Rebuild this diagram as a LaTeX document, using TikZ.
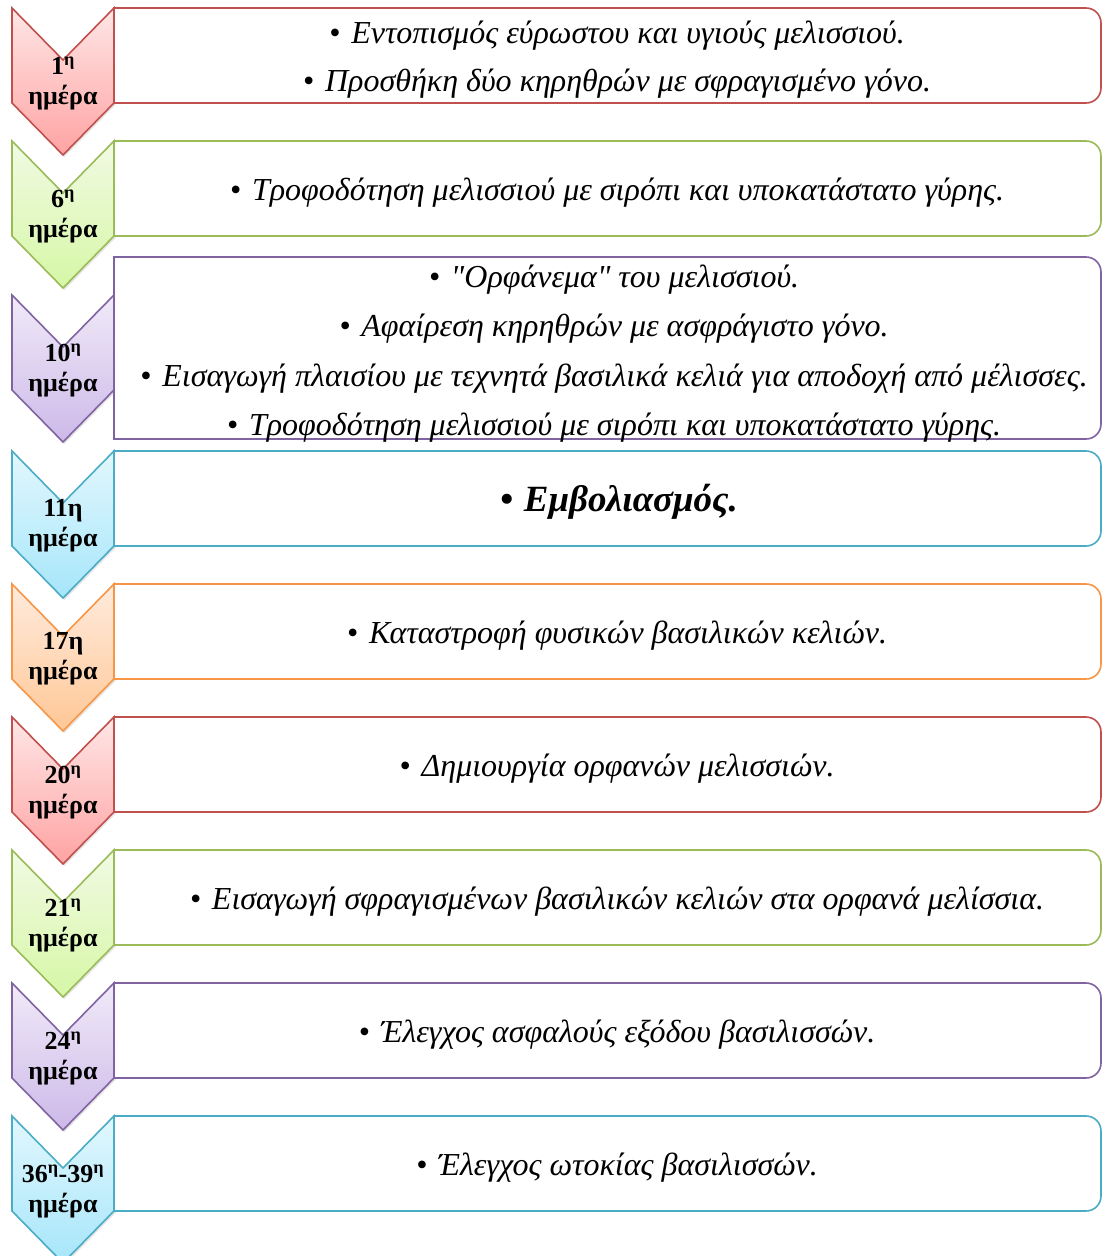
\documentclass[tikz,border=0pt]{standalone}
\usepackage{fontspec}
\setmainfont{Liberation Serif}
\usetikzlibrary{positioning,shadows}

\definecolor{redline}{HTML}{C0504D}
\definecolor{redtop}{HTML}{FFE6E6}
\definecolor{redbot}{HTML}{FFA3A3}
\definecolor{greenline}{HTML}{9BBB59}
\definecolor{greentop}{HTML}{F1FAE3}
\definecolor{greenbot}{HTML}{D6F7A6}
\definecolor{purpleline}{HTML}{8064A2}
\definecolor{purpletop}{HTML}{F0EAF8}
\definecolor{purplebot}{HTML}{CDB9E9}
\definecolor{blueline}{HTML}{4BACC6}
\definecolor{bluetop}{HTML}{E2F7FD}
\definecolor{bluebot}{HTML}{A6E6FA}
\definecolor{orangeline}{HTML}{F79646}
\definecolor{orangetop}{HTML}{FFEBDD}
\definecolor{orangebot}{HTML}{FFC796}

\begin{document}
\begin{tikzpicture}[x=1pt,y=1pt]
\tikzset{
  chevron/.style={line width=1.6pt, line join=miter,
    drop shadow={opacity=0.2, shadow xshift=1.5pt, shadow yshift=-2pt}},
  frame/.style={line width=1.6pt, fill=white},
  item/.style={align=center, font=\fontsize{32}{48}\selectfont\itshape},
  day/.style={align=center, font=\fontsize{26}{30}\selectfont\bfseries},
}
\useasboundingbox (0,0) rectangle (1102,-1256);

\def\bul{•\hspace{11pt}}

% #1 name, #2 top, #3 colour, #4 label
\def\chev#1#2#3#4{
  \shadedraw[chevron, draw=#3line, top color=#3top, bottom color=#3bot]
    (12,-#2) -- (63,-#2-52) -- (114,-#2) -- (114,-#2-95)
    -- (63,-#2-147) -- (12,-#2-95) -- cycle;
  \node[day] (#1) at (63,-#2-75) {#4};
}
% #1 name, #2 top, #3 bottom, #4 colour, #5 text
\def\dbox#1#2#3#4#5{
  \draw[frame, draw=#4line] (114,-#3) -- (114,-#2) -- (1086,-#2)
    arc[start angle=90, end angle=0, radius=15] -- (1101,-#3+15)
    arc[start angle=0, end angle=-90, radius=15] -- cycle;
  \node[item] (#1) at (617,{-(#2+#3)/2-4}) {#5};
}

\chev{d1}{8}{red}{1\textsuperscript{η}\\ημέρα}
\dbox{t1}{8}{103}{red}{\bul Εντοπισμός εύρωστου και υγιούς μελισσιού.\\
  \bul Προσθήκη δύο κηρηθρών με σφραγισμένο γόνο.}

\chev{d6}{141}{green}{6\textsuperscript{η}\\ημέρα}
\dbox{t6}{141}{236}{green}{\bul Τροφοδότηση μελισσιού με σιρόπι και υποκατάστατο γύρης.}

\chev{d10}{295}{purple}{10\textsuperscript{η}\\ημέρα}
\draw[frame, draw=purpleline] (114,-439) -- (114,-257) -- (1086,-257)
  arc[start angle=90, end angle=0, radius=15] -- (1101,-424)
  arc[start angle=0, end angle=-90, radius=15] -- cycle;
\node[item, font=\fontsize{32}{49.5}\selectfont\itshape] (t10) at (614,-353.5)
  {\bul \textquotedbl Ορφάνεμα\textquotedbl{} του μελισσιού.\\
   \bul Αφαίρεση κηρηθρών με ασφράγιστο γόνο.\\
   \bul Εισαγωγή πλαισίου με τεχνητά βασιλικά κελιά για αποδοχή από μέλισσες.\\
   \bul Τροφοδότηση μελισσιού με σιρόπι και υποκατάστατο γύρης.};

\chev{d11}{451}{blue}{11η\\ημέρα}
\draw[frame, draw=blueline] (114,-546) -- (114,-451) -- (1086,-451)
  arc[start angle=90, end angle=0, radius=15] -- (1101,-531)
  arc[start angle=0, end angle=-90, radius=15] -- cycle;
\node[font=\fontsize{37}{44}\selectfont\bfseries\itshape] (t11) at (619,-502)
  {\bul Εμβολιασμός.};

\chev{d17}{584}{orange}{17η\\ημέρα}
\dbox{t17}{584}{679}{orange}{\bul Καταστροφή φυσικών βασιλικών κελιών.}

\chev{d20}{717}{red}{20\textsuperscript{η}\\ημέρα}
\dbox{t20}{717}{812}{red}{\bul Δημιουργία ορφανών μελισσιών.}

\chev{d21}{850}{green}{21\textsuperscript{η}\\ημέρα}
\dbox{t21}{850}{945}{green}{\bul Εισαγωγή σφραγισμένων βασιλικών κελιών στα ορφανά μελίσσια.}

\chev{d24}{983}{purple}{24\textsuperscript{η}\\ημέρα}
\dbox{t24}{983}{1078}{purple}{\bul Έλεγχος ασφαλούς εξόδου βασιλισσών.}

\chev{d36}{1116}{blue}{36\textsuperscript{η}-39\textsuperscript{η}\\ημέρα}
\dbox{t36}{1116}{1211}{blue}{\bul Έλεγχος ωτοκίας βασιλισσών.}

\end{tikzpicture}
\end{document}
